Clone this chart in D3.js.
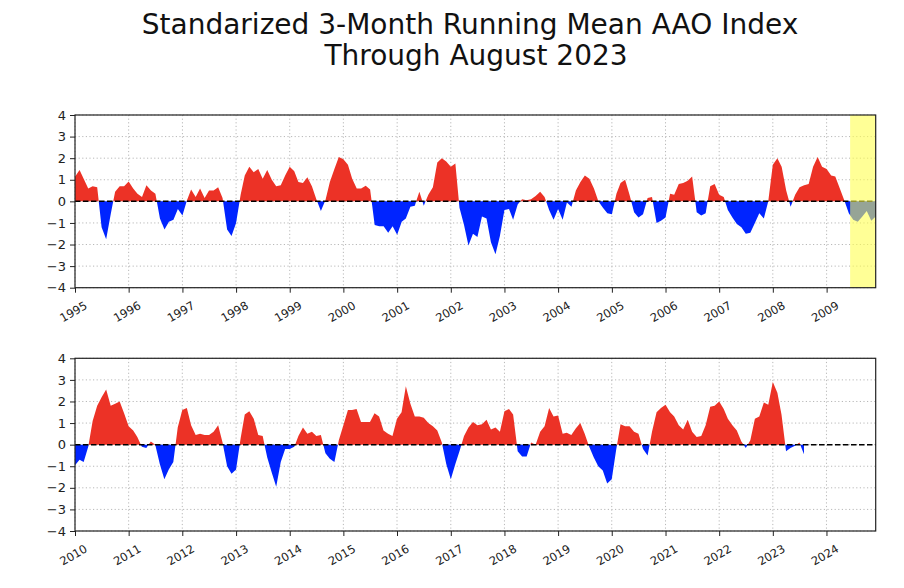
<!DOCTYPE html>
<html>
<head>
<meta charset="utf-8">
<script src="https://cdn.jsdelivr.net/npm/d3@7"></script>
<style>
  html, body { margin: 0; padding: 0; background: #fff; }
  svg { display: block; font-family: "DejaVu Sans", sans-serif; }
</style>
</head>
<body>
<svg id="chart" width="904" height="588"></svg>
<script>
// ---------------- DATA ----------------
const titleLines = ["Standarized 3-Month Running Mean AAO Index", "Through August 2023"];

const topStart = "1995-01";
const topEnd = "2009-12";
const topValues = [
  1.14, 1.45, 1.05, 0.6, 0.7, 0.65, -1.2, -1.75, -0.6, 0.45, 0.7, 0.7,
  0.92, 0.6, 0.35, 0.2, 0.75, 0.5, 0.35, -0.8, -1.3, -0.95, -0.85, -0.35,
  -0.65, 0.05, 0.55, 0.2, 0.6, 0.15, 0.5, 0.5, 0.65, 0.15, -1.3, -1.6,
  -1.0, 0.3, 1.2, 1.6, 1.35, 1.5, 1.05, 1.45, 1.0, 0.7, 0.75, 1.2,
  1.6, 1.4, 0.9, 0.85, 1.12, 0.7, 0.1, -0.45, 0.05, 0.9, 1.5, 2.05,
  1.95, 1.7, 1.05, 0.6, 0.6, 0.72, 0.55, -1.1, -1.15, -1.15, -1.45, -1.15,
  -1.55, -0.95, -0.8, -0.25, -0.2, 0.45, -0.2, 0.3, 0.65, 1.8, 2.0, 1.85,
  1.6, 1.75, -0.3, -1.1, -2.05, -1.5, -1.65, -0.7, -0.8, -1.9, -2.45, -1.6,
  -0.4, -0.35, -0.85, -0.15, 0.1, 0.05, 0.1, 0.25, 0.45, 0.2, -0.4, -0.85,
  -0.35, -0.85, -0.05, -0.25, 0.5, 0.9, 1.2, 1.05, 0.6, 0.0, -0.3, -0.55,
  -0.6, 0.35, 0.85, 1.0, 0.3, -0.5, -0.75, -0.6, 0.15, 0.2, -1.0, -0.9,
  -0.75, 0.35, 0.3, 0.8, 0.85, 0.95, 1.15, -0.5, -0.65, -0.55, 0.7, 0.8,
  0.3, 0.2, -0.4, -0.75, -1.05, -1.2, -1.5, -1.45, -1.0, -0.55, -0.8, 0.0,
  1.7, 2.0, 1.6, 0.5, -0.25, 0.3, 0.65, 0.75, 0.8, 1.6, 2.05, 1.6,
  1.5, 1.2, 1.15, 0.6, 0.05, -0.55, -0.85, -0.95, -0.7, -0.45, -0.9, -0.7
];
const highlightStart = "2009-06-10";

const bottomStart = "2010-01";
const bottomEnd = "2024-12";
const bottomValues = [
  -0.95, -0.7, -0.8, -0.1, 1.1, 1.8, 2.2, 2.55, 1.8, 1.9, 2.0, 1.45,
  0.85, 0.65, 0.35, -0.1, -0.15, 0.15, 0.0, -0.9, -1.6, -1.15, -0.8, 0.8,
  1.6, 1.7, 0.9, 0.45, 0.5, 0.45, 0.45, 0.6, 0.9, 0.1, -1.0, -1.35,
  -1.15, 0.3, 1.4, 1.55, 1.2, 0.45, 0.4, -0.6, -1.3, -1.95, -0.8, -0.2,
  -0.2, -0.1, 0.4, 0.8, 0.5, 0.6, 0.4, 0.45, -0.4, -0.65, -0.8, 0.2,
  0.9, 1.6, 1.6, 1.65, 1.05, 1.05, 1.05, 1.45, 1.3, 0.65, 0.5, 0.4,
  1.2, 1.5, 2.7, 1.9, 1.3, 1.3, 1.25, 1.0, 0.85, 0.65, 0.1, -0.9,
  -1.6, -0.9, -0.3, 0.4, 0.8, 1.05, 0.9, 0.95, 1.15, 0.7, 0.8, 0.6,
  1.55, 1.65, 1.4, -0.3, -0.55, -0.55, 0.1, 0.0, 0.6, 0.85, 1.7, 1.3,
  1.35, 0.5, 0.55, 0.45, 0.75, 1.0, 0.5, -0.1, -0.6, -1.0, -1.2, -1.8,
  -1.6, -0.2, 0.95, 0.85, 0.85, 0.6, 0.5, -0.2, -0.5, 0.6, 1.5, 1.7,
  1.85, 1.5, 1.3, 0.9, 0.7, 1.15, 0.6, 0.35, 0.4, 0.9, 1.75, 1.8,
  2.0, 1.65, 1.2, 0.9, 0.65, 0.15, -0.15, 0.2, 1.2, 1.3, 1.95, 1.85,
  2.9, 2.4, 1.4, -0.3, -0.15, -0.05, 0.1, -0.45
];

const yTickValues = [-4, -3, -2, -1, 0, 1, 2, 3, 4];
const topYearLabels = ["1995","1996","1997","1998","1999","2000","2001","2002","2003","2004","2005","2006","2007","2008","2009"];
const bottomYearLabels = ["2010","2011","2012","2013","2014","2015","2016","2017","2018","2019","2020","2021","2022","2023","2024"];

// ---------------- DRAWING ----------------
const svg = d3.select("#chart");
const parseMonth = d3.utcParse("%Y-%m");
const parseDay = d3.utcParse("%Y-%m-%d");

const RED = "#ec3226";
const BLUE = "#0024ff";

svg.append("text")
  .attr("x", 470).attr("y", 34)
  .attr("text-anchor", "middle")
  .attr("font-size", 28)
  .attr("fill", "#111")
  .text(titleLines[0]);
svg.append("text")
  .attr("x", 476).attr("y", 65)
  .attr("text-anchor", "middle")
  .attr("font-size", 28)
  .attr("fill", "#111")
  .text(titleLines[1]);

function drawPanel(opts) {
  const { left, right, top, bottom, start, end, values, yearLabels, highlight } = opts;
  const t0 = parseMonth(start);
  const t1 = parseMonth(end);
  const x = d3.scaleUtc().domain([t0, t1]).range([left, right]);
  const y = d3.scaleLinear().domain([-4, 4]).range([bottom, top]);
  const g = svg.append("g");

  const pts = values.map((v, i) => ({ m: i, v }));
  const dateOf = m => {
    const whole = Math.floor(m);
    const d0 = d3.utcMonth.offset(t0, whole);
    const d1 = d3.utcMonth.offset(t0, whole + 1);
    return new Date(d0.getTime() + (m - whole) * (d1 - d0));
  };
  const aug = [];
  for (let i = 0; i < pts.length; i++) {
    const p = pts[i];
    aug.push(p);
    if (i < pts.length - 1) {
      const q = pts[i + 1];
      if ((p.v > 0 && q.v < 0) || (p.v < 0 && q.v > 0)) {
        const f = p.v / (p.v - q.v);
        aug.push({ m: p.m + f, v: 0 });
      }
    }
  }

  const yearTicks = yearLabels.map(s => d3.utcParse("%Y")(s));

  const grid = g.append("g");
  grid.selectAll("line.vg").data(yearTicks).enter().append("line")
    .attr("x1", d => x(d)).attr("x2", d => x(d))
    .attr("y1", top).attr("y2", bottom)
    .attr("stroke", "#b8b8b8").attr("stroke-width", 1)
    .attr("stroke-dasharray", "1.2,2.4");
  grid.selectAll("line.hg").data(yTickValues).enter().append("line")
    .attr("x1", left).attr("x2", right)
    .attr("y1", d => y(d)).attr("y2", d => y(d))
    .attr("stroke", "#b8b8b8").attr("stroke-width", 1)
    .attr("stroke-dasharray", "1.2,2.4");

  const areaPos = d3.area()
    .x(d => x(dateOf(d.m)))
    .y0(y(0))
    .y1(d => y(Math.max(d.v, 0)));
  const areaNeg = d3.area()
    .x(d => x(dateOf(d.m)))
    .y0(y(0))
    .y1(d => y(Math.min(d.v, 0)));

  g.append("path").datum(aug).attr("d", areaPos).attr("fill", RED);
  g.append("path").datum(aug).attr("d", areaNeg).attr("fill", BLUE);

  g.append("line")
    .attr("x1", left).attr("x2", right)
    .attr("y1", y(0)).attr("y2", y(0))
    .attr("stroke", "#000").attr("stroke-width", 1.5)
    .attr("stroke-dasharray", "5.5,2.5");

  if (highlight) {
    const hx = x(parseDay(highlight));
    g.append("rect")
      .attr("x", hx).attr("y", top)
      .attr("width", right - hx).attr("height", bottom - top)
      .attr("fill", "#ffff4d").attr("fill-opacity", 0.59);
  }

  const yAxis = d3.axisLeft(y).tickValues(yTickValues).tickSize(5).tickPadding(4)
    .tickFormat(d => d < 0 ? "\u2212" + Math.abs(d) : String(d));
  const ya = g.append("g").attr("transform", `translate(${left},0)`).call(yAxis);
  ya.select(".domain").remove();
  ya.selectAll(".tick line").attr("stroke", "#222").attr("stroke-width", 1);
  ya.selectAll(".tick text").attr("font-size", 13).attr("fill", "#222")
    .attr("font-family", "DejaVu Sans, sans-serif");

  const xAxis = d3.axisBottom(x).tickValues(yearTicks).tickSize(5)
    .tickFormat((d, i) => yearLabels[i]);
  const xa = g.append("g").attr("transform", `translate(0,${bottom})`).call(xAxis);
  xa.select(".domain").remove();
  xa.selectAll(".tick line").attr("stroke", "#222").attr("stroke-width", 1);
  xa.selectAll(".tick text")
    .attr("font-size", 11.5).attr("fill", "#222")
    .attr("font-family", "DejaVu Sans, sans-serif")
    .attr("text-anchor", "middle")
    .attr("dy", null)
    .attr("x", -2)
    .attr("y", 24)
    .attr("dominant-baseline", "central")
    .attr("transform", "rotate(-30, -2, 24)");

  g.append("rect")
    .attr("x", left).attr("y", top)
    .attr("width", right - left).attr("height", bottom - top)
    .attr("fill", "none").attr("stroke", "#222").attr("stroke-width", 1.2);
}

drawPanel({ left: 75, right: 875.7, top: 115, bottom: 287.7,
  start: topStart, end: topEnd, values: topValues, yearLabels: topYearLabels,
  highlight: highlightStart });
drawPanel({ left: 75, right: 875.7, top: 358.3, bottom: 531,
  start: bottomStart, end: bottomEnd, values: bottomValues, yearLabels: bottomYearLabels,
  highlight: null });
</script>
</body>
</html>
